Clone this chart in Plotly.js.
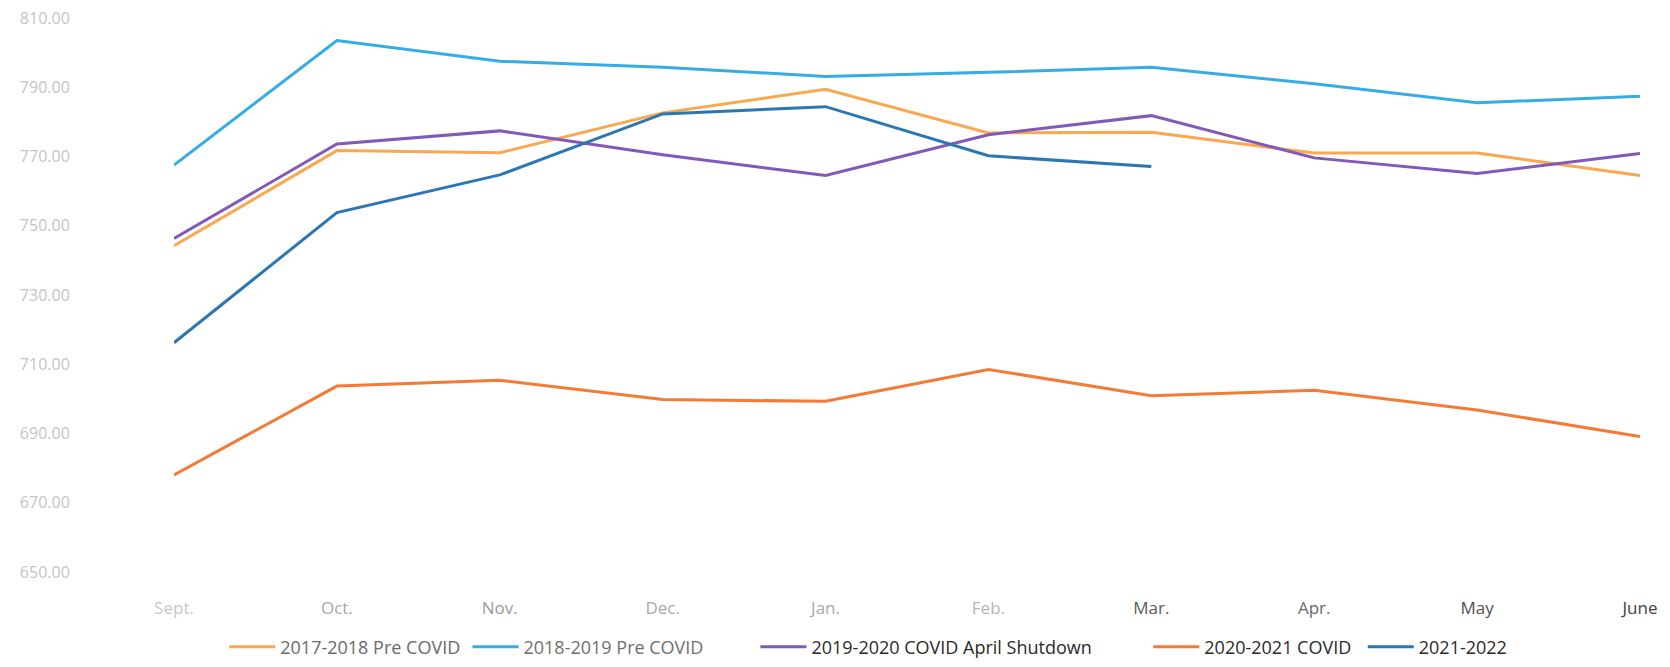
<!DOCTYPE html>
<html>
<head>
<meta charset="utf-8">
<script src="https://cdn.plot.ly/plotly-3.0.1.min.js"></script>
<style>
  html, body { margin: 0; padding: 0; background: #ffffff; }
  #chart { width: 1670px; height: 667px; }
</style>
</head>
<body>
<div id="chart"></div>
<script>
const months = ["Sept.", "Oct.", "Nov.", "Dec.", "Jan.", "Feb.", "Mar.", "Apr.", "May", "June"];

const s2017_2018 = [744.2, 771.7, 771.1, 782.6, 789.4, 776.8, 777.0, 771.0, 771.0, 764.5];
const s2018_2019 = [767.5, 803.5, 797.5, 795.8, 793.1, 794.3, 795.8, 791.0, 785.5, 787.4];
const s2019_2020 = [746.3, 773.6, 777.4, 770.5, 764.5, 776.3, 781.8, 769.6, 765.1, 770.9];
const s2020_2021 = [678.0, 703.7, 705.4, 699.8, 699.3, 708.5, 700.9, 702.5, 696.8, 689.1];
const s2021_2022 = [716.2, 753.8, 764.7, 782.3, 784.4, 770.2, 767.1];

const seriesNames = ["2017-2018 Pre COVID", "2018-2019 Pre COVID", "2019-2020 COVID April Shutdown", "2020-2021 COVID", "2021-2022"];
const yTicks = [650, 670, 690, 710, 730, 750, 770, 790, 810];

// styling (kept apart from the data)
const colors = ["#F9A84F", "#36ACE4", "#8258B8", "#F47A36", "#2C77B3"];
const legendTextColors = ["#6a6a6a", "#707070", "#2a2a2a", "#2a2a2a", "#2a2a2a"];
const legendX = [0.0343, 0.2002, 0.3966, 0.6646, 0.8109];
const monthLabelColors = ["#c8c8c8", "#a8a8a8", "#9a9a9a", "#a8a8a8", "#a8a8a8", "#b4b4b4", "#5a5a5a", "#6a6a6a", "#505050", "#404040"];
const allSeries = [s2017_2018, s2018_2019, s2019_2020, s2020_2021, s2021_2022];

const font = "'Open Sans', 'Noto Sans', sans-serif";

const traces = allSeries.map((vals, i) => ({
  type: "scatter",
  mode: "lines",
  name: seriesNames[i],
  legend: i === 0 ? "legend" : "legend" + (i + 1),
  x: months.slice(0, vals.length),
  y: vals,
  line: { color: colors[i], width: 3 },
  hoverinfo: "x+y+name"
}));

const layout = {
  width: 1670,
  height: 667,
  paper_bgcolor: "#ffffff",
  plot_bgcolor: "#ffffff",
  margin: { l: 174, r: 30, t: 18, b: 95, autoexpand: false },
  showlegend: true,
  xaxis: {
    type: "category",
    categoryorder: "array",
    categoryarray: months,
    tickvals: months,
    ticktext: months.map((m, i) => '<span style="color:' + monthLabelColors[i] + '">' + m + '</span>'),
    range: [0, 9],
    showgrid: false,
    zeroline: false,
    showline: false,
    ticks: "outside",
    ticklen: 21,
    tickcolor: "rgba(0,0,0,0)",
    tickfont: { family: font, size: 17, color: "#8a8a8a" }
  },
  yaxis: {
    range: [650, 810],
    tickvals: yTicks,
    ticktext: yTicks.map(v => v.toFixed(2)),
    showgrid: false,
    zeroline: false,
    showline: false,
    ticks: "outside",
    ticklen: 100,
    tickcolor: "rgba(0,0,0,0)",
    tickfont: { family: font, size: 16, color: "#c4c4c4" }
  }
};

seriesNames.forEach((n, i) => {
  const key = i === 0 ? "legend" : "legend" + (i + 1);
  layout[key] = {
    orientation: "h",
    x: legendX[i],
    xanchor: "left",
    y: -0.1354,
    yanchor: "middle",
    itemwidth: 46,
    font: { family: font, size: 18, color: legendTextColors[i] },
    bgcolor: "rgba(0,0,0,0)"
  };
});

Plotly.newPlot("chart", traces, layout, { displayModeBar: false, staticPlot: true });
</script>
</body>
</html>
